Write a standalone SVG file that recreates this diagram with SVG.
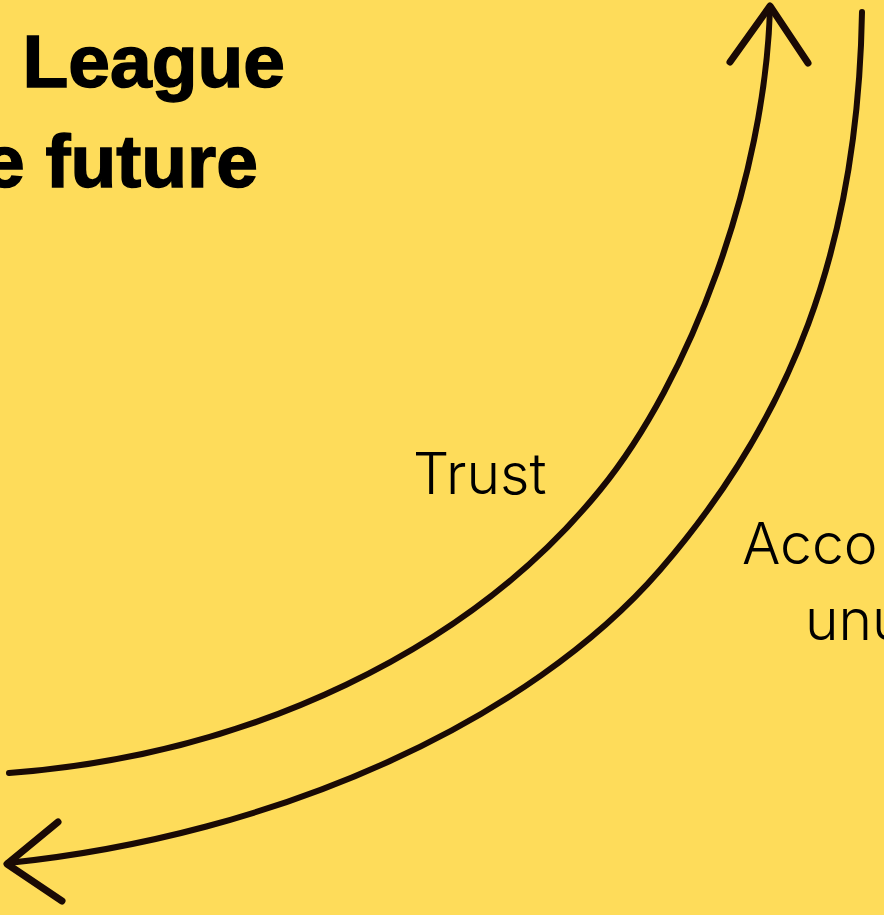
<svg xmlns="http://www.w3.org/2000/svg" width="884" height="915" viewBox="0 0 884 915">
<style>
.title{font-family:"Liberation Sans",Arial,sans-serif;font-weight:bold;font-size:75px;fill:#000;stroke:#000;stroke-width:1.5}
.label{font-family:Inter,"Liberation Sans",sans-serif;font-weight:300;font-size:57px;fill:#000}
.arc{fill:none;stroke:#1a0a05;stroke-width:6;stroke-linecap:round;stroke-linejoin:round}
.head{fill:none;stroke:#1a0a05;stroke-width:7;stroke-linecap:round;stroke-linejoin:round}
</style>
<rect width="884" height="915" fill="#FEDC5A"/>
<g id="title">
<text class="title" x="285" y="87" text-anchor="end">League</text>
<text class="title" x="258" y="187" text-anchor="end">e future</text>
</g>
<g id="connectors">
<g id="trust-arrow">
<path class="arc" d="M9,773 C250,755 470,650 600,490 C690,380 765,180 770,8"/>
<polyline class="head" points="730,62 770,6 808,63"/>
</g>
<g id="accountability-arrow">
<path class="arc" d="M862,12 C858,250 790,420 660,570 C530,720 280,835 8,863"/>
<polyline class="head" points="58,822 7,864 62,901"/>
</g>
</g>
<g id="label-trust"><text class="label" x="413" y="494">Trust</text></g>
<g id="label-accountability">
<text class="label" x="742" y="564">Acco</text>
<text class="label" x="805" y="640">unu</text>
</g>
</svg>
